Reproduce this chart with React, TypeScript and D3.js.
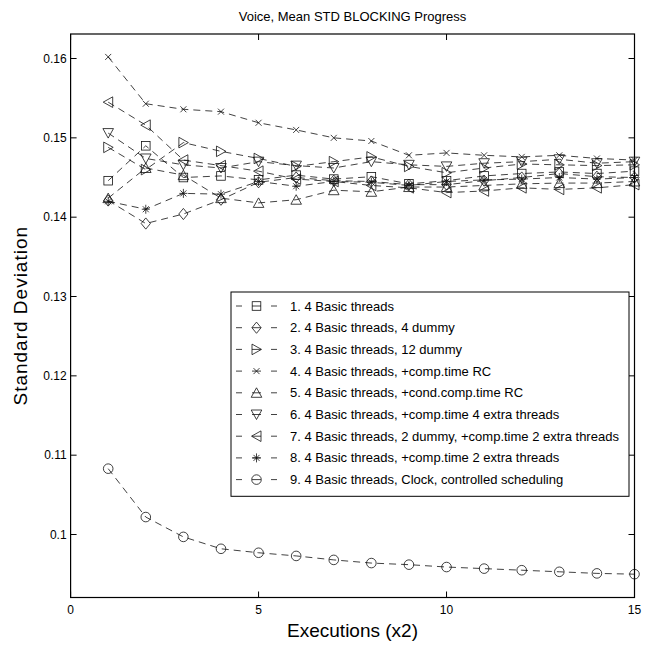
import React from 'react';
import * as d3 from 'd3';

// executions (x2)
const executions = [1, 2, 3, 4, 5, 6, 7, 8, 9, 10, 11, 12, 13, 14, 15];

const s1 = [0.1446, 0.1490, 0.1450, 0.1452, 0.1447, 0.1453, 0.1448, 0.1451, 0.1442, 0.1446, 0.1452, 0.1455, 0.1457, 0.1455, 0.1458];
const s2 = [0.1421, 0.1392, 0.1404, 0.1422, 0.1444, 0.1450, 0.1446, 0.1445, 0.1441, 0.1441, 0.1446, 0.1450, 0.1455, 0.1451, 0.1450];
const s3 = [0.1488, 0.1460, 0.1494, 0.1483, 0.1474, 0.1464, 0.1470, 0.1476, 0.1464, 0.1456, 0.1462, 0.1467, 0.1466, 0.1465, 0.1466];
const s4 = [0.1602, 0.1543, 0.1536, 0.1533, 0.1519, 0.1510, 0.1500, 0.1496, 0.1478, 0.1481, 0.1478, 0.1476, 0.1478, 0.1474, 0.1472];
const s5 = [0.1424, 0.1462, 0.1453, 0.1424, 0.1418, 0.1422, 0.1434, 0.1432, 0.1438, 0.1438, 0.1440, 0.1442, 0.1443, 0.1443, 0.1445];
const s6 = [0.1506, 0.1474, 0.1466, 0.1462, 0.1470, 0.1465, 0.1462, 0.1470, 0.1466, 0.1464, 0.1468, 0.1470, 0.1473, 0.1468, 0.1470];
const s7 = [0.1545, 0.1516, 0.1472, 0.1465, 0.1458, 0.1448, 0.1445, 0.1440, 0.1437, 0.1431, 0.1433, 0.1437, 0.1435, 0.1437, 0.1441];
const s8 = [0.1420, 0.1410, 0.1430, 0.1429, 0.1445, 0.1439, 0.1445, 0.1444, 0.1440, 0.1445, 0.1447, 0.1448, 0.1450, 0.1448, 0.1450];
const s9 = [0.1083, 0.1022, 0.0997, 0.0982, 0.0977, 0.0973, 0.0968, 0.0964, 0.0962, 0.0959, 0.0957, 0.0955, 0.0953, 0.0951, 0.0950];

const labels = [
  '1. 4 Basic threads',
  '2. 4 Basic threads, 4 dummy',
  '3. 4 Basic threads, 12 dummy',
  '4. 4 Basic threads, +comp.time RC',
  '5. 4 Basic threads, +cond.comp.time RC',
  '6. 4 Basic threads, +comp.time 4 extra threads',
  '7. 4 Basic threads, 2 dummy, +comp.time 2 extra threads',
  '8. 4 Basic threads, +comp.time 2 extra threads',
  '9. 4 Basic threads, Clock, controlled scheduling',
];
const markers = ['square', 'diamond', 'right', 'x', 'up', 'down', 'left', 'star', 'circle'];
const seriesData = [s1, s2, s3, s4, s5, s6, s7, s8, s9];

const xTicks = [0, 5, 10, 15];
const yTicks = [0.1, 0.11, 0.12, 0.13, 0.14, 0.15, 0.16];

const W = 651, H = 648;
const left = 70.6, right = 634.5, top = 34, bottom = 597.5;
const ink = '#111';
const font = '"Liberation Sans", Arial, Helvetica, sans-serif';

function Marker({ type, x, y }: { type: string; x: number; y: number }) {
  const p = { fill: 'none', stroke: ink, strokeWidth: 0.8 };
  switch (type) {
    case 'square':
      return <rect x={x - 4.3} y={y - 4.3} width={8.6} height={8.6} {...p} />;
    case 'diamond':
      return <path d={`M${x},${y - 5.6}L${x + 4.6},${y}L${x},${y + 5.6}L${x - 4.6},${y}Z`} {...p} />;
    case 'right':
      return <path d={`M${x + 5},${y}L${x - 4.5},${y - 5.3}L${x - 4.5},${y + 5.3}Z`} {...p} />;
    case 'left':
      return <path d={`M${x - 5},${y}L${x + 4.5},${y - 5.3}L${x + 4.5},${y + 5.3}Z`} {...p} />;
    case 'up':
      return <path d={`M${x},${y - 5}L${x + 5.3},${y + 4.5}L${x - 5.3},${y + 4.5}Z`} {...p} />;
    case 'down':
      return <path d={`M${x},${y + 5}L${x + 5.3},${y - 4.5}L${x - 5.3},${y - 4.5}Z`} {...p} />;
    case 'x':
      return <path d={`M${x - 3},${y - 3}L${x + 3},${y + 3}M${x - 3},${y + 3}L${x + 3},${y - 3}`} {...p} />;
    case 'star':
      return <path d={`M${x - 4},${y}L${x + 4},${y}M${x},${y - 4.5}L${x},${y + 4.5}M${x - 3},${y - 3}L${x + 3},${y + 3}M${x - 3},${y + 3}L${x + 3},${y - 3}`} {...p} />;
    default:
      return <circle cx={x} cy={y} r={4.8} {...p} />;
  }
}

export default function App() {
  const xScale = d3.scaleLinear().domain([0, 15]).range([left, right]);
  const yScale = d3.scaleLinear().domain([0.09206, 0.16309]).range([bottom, top]);
  const line = d3.line<number>()
    .x((_, i) => xScale(executions[i]))
    .y(d => yScale(d));

  const legX = 231, legY = 292, legW = 398, legRow = 21.7;

  return (
    <div style={{ position: 'absolute', left: 0, top: 0 }}>
      <svg width={W} height={H} style={{ display: 'block', background: '#fff' }} fontFamily={font}>
        {/* series */}
        {seriesData.map((s, k) => (
          <g key={k}>
            <path d={line(s) || ''} fill="none" stroke={ink} strokeWidth={0.8} strokeDasharray="7,5" />
            {s.map((v, i) => <Marker key={i} type={markers[k]} x={xScale(executions[i])} y={yScale(v)} />)}
          </g>
        ))}

        {/* frame + ticks */}
        <rect x={left} y={top} width={right - left} height={bottom - top} fill="none" stroke="#000" strokeWidth={1.2} />
        {xTicks.map(t => (
          <g key={'x' + t}>
            <line x1={xScale(t)} x2={xScale(t)} y1={bottom} y2={bottom - 6} stroke="#000" />
            <line x1={xScale(t)} x2={xScale(t)} y1={top} y2={top + 6} stroke="#000" />
            <text x={xScale(t)} y={bottom + 16} fontSize={12} textAnchor="middle">{t}</text>
          </g>
        ))}
        {yTicks.map(t => (
          <g key={'y' + t}>
            <line x1={left} x2={left + 6} y1={yScale(t)} y2={yScale(t)} stroke="#000" />
            <line x1={right} x2={right - 6} y1={yScale(t)} y2={yScale(t)} stroke="#000" />
            <text x={left - 4} y={yScale(t) + 4} fontSize={12} textAnchor="end">{d3.format('~g')(t)}</text>
          </g>
        ))}

        {/* titles */}
        <text x={(left + right) / 2} y={21} fontSize={13} textAnchor="middle">Voice, Mean STD BLOCKING Progress</text>
        <text x={(left + right) / 2} y={637} fontSize={19} textAnchor="middle">Executions (x2)</text>
        <text transform={`translate(27,${(top + bottom) / 2}) rotate(-90)`} fontSize={19} textAnchor="middle" letterSpacing={1}>Standard Deviation</text>

        {/* legend */}
        <rect x={legX} y={legY} width={legW} height={legRow * 9 + 9} fill="#fff" stroke="#000" strokeWidth={1} />
        {labels.map((lab, k) => {
          const cy = legY + 14 + k * legRow;
          return (
            <g key={lab}>
              <line x1={legX + 5} x2={legX + 11} y1={cy} y2={cy} stroke={ink} strokeWidth={0.8} />
              <line x1={legX + 21} x2={legX + 30} y1={cy} y2={cy} stroke={ink} strokeWidth={0.8} />
              <line x1={legX + 40} x2={legX + 46} y1={cy} y2={cy} stroke={ink} strokeWidth={0.8} />
              <Marker type={markers[k]} x={legX + 25.5} y={cy} />
              <text x={legX + 59} y={cy + 4.5} fontSize={13}>{lab}</text>
            </g>
          );
        })}
      </svg>
    </div>
  );
}
